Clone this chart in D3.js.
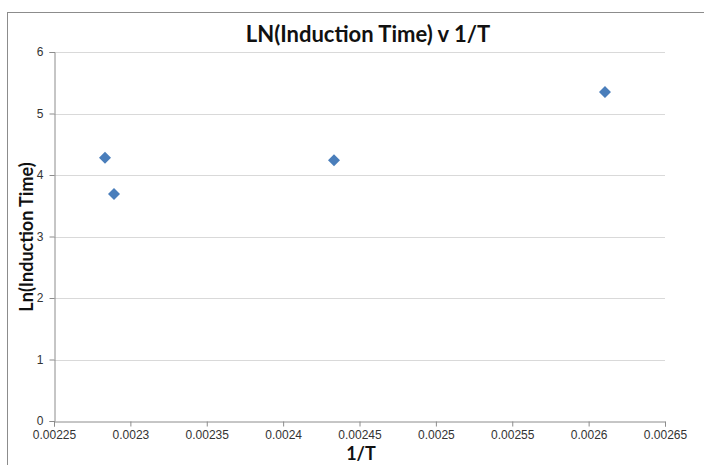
<!DOCTYPE html>
<html>
<head>
<meta charset="utf-8">
<script src="https://cdn.jsdelivr.net/npm/d3@7"></script>
<style>
  html, body { margin: 0; padding: 0; background: #fff; }
  svg { display: block; font-family: Lato, "Open Sans", sans-serif; }
</style>
</head>
<body>
<svg id="chart" width="704" height="465"></svg>
<script>
// Inverse temperature vs log induction time
const invT = [0.0022834, 0.0022893, 0.0024333, 0.0026107];
const lnInduction = [4.28, 3.69, 4.24, 5.35];
const xTicks = [0.00225, 0.0023, 0.00235, 0.0024, 0.00245, 0.0025, 0.00255, 0.0026, 0.00265];
const yTicks = [0, 1, 2, 3, 4, 5, 6];
const xTickLabels = ["0.00225", "0.0023", "0.00235", "0.0024", "0.00245", "0.0025", "0.00255", "0.0026", "0.00265"];

const svg = d3.select("#chart");
const margin = { left: 54, right: 39, top: 52, bottom: 44 };
const W = 704, H = 465;

// Outer chart frame
svg.append("rect")
  .attr("x", 7.5).attr("y", 12.5)
  .attr("width", 720).attr("height", 480)
  .attr("fill", "none").attr("stroke", "#8c8c8c").attr("stroke-width", 1);

const x = d3.scaleLinear().domain([0.00225, 0.00265]).range([margin.left, W - margin.right]);
const y = d3.scaleLinear().domain([0, 6]).range([H - margin.bottom, margin.top]);

// Horizontal gridlines
svg.append("g")
  .selectAll("line")
  .data(yTicks.filter(d => d > 0))
  .join("line")
  .attr("x1", x.range()[0]).attr("x2", x.range()[1])
  .attr("y1", d => Math.round(y(d)) + 0.5).attr("y2", d => Math.round(y(d)) + 0.5)
  .attr("stroke", "#d9d9d9").attr("stroke-width", 1);

// Y axis
const yAxis = svg.append("g")
  .attr("transform", `translate(${Math.round(x.range()[0]) + 0.5},0)`)
  .call(d3.axisLeft(y).tickValues(yTicks).tickSize(5).tickPadding(6).tickFormat(d3.format("d")));
yAxis.select(".domain").attr("stroke", "#8c8c8c");
yAxis.selectAll(".tick line").attr("stroke", "#8c8c8c");
yAxis.selectAll(".tick text").attr("font-size", 12).attr("fill", "#333");

// X axis
const xAxis = svg.append("g")
  .attr("transform", `translate(0,${Math.round(y(0)) + 0.5})`)
  .call(d3.axisBottom(x).tickValues(xTicks).tickSize(5).tickPadding(4)
    .tickFormat((d, i) => xTickLabels[i]));
xAxis.select(".domain").attr("stroke", "#8c8c8c");
xAxis.selectAll(".tick line").attr("stroke", "#8c8c8c");
xAxis.selectAll(".tick text").attr("font-size", 12).attr("fill", "#333");

// Data markers (diamonds)
const diamond = d3.symbol().type(d3.symbolSquare).size(72);
svg.append("g")
  .selectAll("path")
  .data(invT.map((v, i) => [v, lnInduction[i]]))
  .join("path")
  .attr("d", diamond)
  .attr("transform", d => `translate(${x(d[0])},${y(d[1])}) rotate(45)`)
  .attr("fill", "#4a7ebb");

// Title and axis titles
svg.append("text")
  .attr("x", 368).attr("y", 42)
  .attr("text-anchor", "middle")
  .attr("font-size", 22).attr("font-weight", "bold").attr("fill", "#111")
  .text("LN(Induction Time) v 1/T");

svg.append("text")
  .attr("x", 361).attr("y", 460)
  .attr("text-anchor", "middle")
  .attr("font-size", 18).attr("font-weight", "bold").attr("fill", "#111")
  .text("1/T");

svg.append("text")
  .attr("transform", "translate(33,237) rotate(-90)")
  .attr("text-anchor", "middle")
  .attr("font-size", 18).attr("font-weight", "bold").attr("fill", "#111")
  .text("Ln(Induction Time)");
</script>
</body>
</html>
